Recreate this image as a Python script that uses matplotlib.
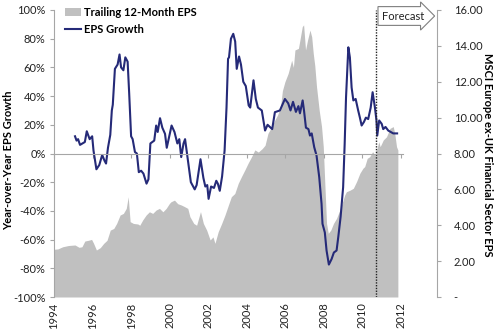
import numpy as np
import matplotlib
matplotlib.use("Agg")
from matplotlib import pyplot as plt
from matplotlib.patches import Patch
from matplotlib.lines import Line2D
from matplotlib.ticker import FuncFormatter, MultipleLocator

plt.rcParams['font.family'] = ['Lato', 'DejaVu Sans']

# year-over-year EPS growth (%), decimal years
growth_x = [1995.09, 1995.17, 1995.25, 1995.35, 1995.6, 1995.7, 1995.85, 1995.98,
            1996.05, 1996.2, 1996.35, 1996.5, 1996.62, 1996.7, 1996.8, 1996.92,
            1997.0, 1997.05, 1997.16, 1997.3, 1997.4, 1997.48, 1997.6, 1997.7,
            1997.82, 1997.9, 1998.0, 1998.08, 1998.2, 1998.3, 1998.4, 1998.52,
            1998.64, 1998.8, 1998.9, 1999.0, 1999.2, 1999.3, 1999.38, 1999.5,
            1999.62, 1999.76, 1999.85, 2000.1, 2000.25, 2000.4, 2000.5, 2000.6,
            2000.72, 2000.8, 2000.95, 2001.1, 2001.3, 2001.4, 2001.6, 2001.75,
            2001.85, 2001.95, 2002.02, 2002.15, 2002.3, 2002.42, 2002.5, 2002.6,
            2002.72, 2002.85, 2002.95, 2003.03, 2003.08, 2003.18, 2003.3, 2003.4,
            2003.48, 2003.6, 2003.7, 2003.82, 2003.95, 2004.1, 2004.18, 2004.35,
            2004.47, 2004.58, 2004.78, 2004.95, 2005.08, 2005.2, 2005.32, 2005.46,
            2005.72, 2005.98, 2006.15, 2006.27, 2006.4, 2006.55, 2006.68, 2006.76,
            2006.9, 2006.97, 2007.07, 2007.2, 2007.28, 2007.37, 2007.5, 2007.62,
            2007.76, 2007.88, 2007.93, 2008.05, 2008.14, 2008.26, 2008.4, 2008.52,
            2008.66, 2008.75, 2008.87, 2009.0, 2009.08, 2009.15, 2009.27, 2009.35,
            2009.44, 2009.53, 2009.65, 2009.78, 2009.87, 2009.96, 2010.08, 2010.18,
            2010.3, 2010.43, 2010.53, 2010.65, 2010.73, 2010.77, 2010.87, 2011.0,
            2011.08, 2011.2, 2011.34, 2011.6, 2011.8]
growth_y = [12, 9, 10, 6, 8, 15.5, 10, 12,
            2, -11, -8, -1, -5, -7, 4, 13,
            30, 34, 59, 62, 69, 60, 58, 67,
            64, 42, 12, 10, 1, 0, -13, -12,
            -14, -21, -18, 7, 9, 19.5, 15, 24.6,
            18, 13.7, 4, 19.5, 15, 7, 10, -2.5,
            7, 10, -5, -20, -25, -22, -4, -17,
            -23, -22, -31.6, -23, -24, -19, -21, -26,
            -16, 2, 32, 66, 67, 80, 83.4, 78,
            59, 67.6, 62, 50, 47, 33.5, 32, 51,
            38, 32, 30, 16, 20, 18.5, 17, 28.8,
            30, 38, 35, 30, 36, 29, 33, 28,
            37, 30, 18, 17, 12.5, 14, 4.4, -1.4,
            -16.5, -35, -49, -55, -67.6, -77.4, -73.6, -69,
            -67.6, -58, -44, -23.5, 6.7, 39, 74, 67,
            46, 37, 38, 30, 25, 19.5, 22, 25,
            24, 32, 42.7, 32, 23, 12.5, 23, 20.7,
            17, 18.5, 16, 14, 14]

# trailing 12-month EPS
eps_x = [1994.0, 1994.2, 1994.45, 1994.75, 1995.09, 1995.3, 1995.45, 1995.6,
         1995.78, 1995.95, 1996.05, 1996.2, 1996.4, 1996.58, 1996.75, 1996.92,
         1997.1, 1997.25, 1997.43, 1997.6, 1997.75, 1997.85, 1997.95, 1998.12,
         1998.35, 1998.45, 1998.6, 1998.78, 1998.95, 1999.12, 1999.3, 1999.47,
         1999.65, 1999.82, 1999.99, 2000.07, 2000.25, 2000.42, 2000.6, 2000.77,
         2000.94, 2001.05, 2001.25, 2001.4, 2001.6, 2001.75, 2001.92, 2002.1,
         2002.25, 2002.35, 2002.52, 2002.7, 2002.87, 2003.05, 2003.2, 2003.38,
         2003.56, 2003.73, 2003.9, 2004.07, 2004.25, 2004.42, 2004.6, 2004.8,
         2004.95, 2005.1, 2005.3, 2005.46, 2005.6, 2005.75, 2005.85, 2005.98,
         2006.15, 2006.33, 2006.42, 2006.5, 2006.68, 2006.76, 2006.88, 2006.95,
         2007.05, 2007.15, 2007.28, 2007.37, 2007.45, 2007.53, 2007.62, 2007.76,
         2007.88, 2007.97, 2008.05, 2008.14, 2008.23, 2008.36, 2008.5, 2008.66,
         2008.83, 2009.0, 2009.08, 2009.17, 2009.35, 2009.53, 2009.7, 2009.87,
         2010.03, 2010.12, 2010.25, 2010.38, 2010.53, 2010.65, 2010.74, 2010.85,
         2010.92, 2011.0, 2011.08, 2011.25, 2011.43, 2011.6, 2011.68, 2011.77,
         2011.84]
eps_y = [2.66, 2.68, 2.8, 2.87, 2.9, 2.77, 2.8, 3.12,
         3.16, 3.21, 3.0, 2.62, 2.75, 2.99, 3.16, 3.73,
         3.82, 4.1, 4.57, 4.66, 4.94, 5.59, 4.2, 4.1,
         4.07, 4.0, 4.29, 4.57, 4.75, 4.66, 4.85, 4.94,
         4.75, 4.94, 5.22, 5.31, 5.4, 5.2, 5.13, 5.04,
         4.94, 4.48, 4.1, 4.0, 4.76, 4.1, 3.73, 3.18,
         3.35, 2.99, 3.64, 4.1, 4.57, 5.13, 5.59, 5.77,
         6.34, 6.72, 7.08, 7.46, 7.82, 8.2, 8.08, 8.27,
         8.46, 9.12, 9.5, 9.87, 10.15, 10.6, 11.5, 12.0,
         12.47, 13.2, 12.8, 13.77, 13.86, 14.33, 15.07, 15.17,
         13.77, 14.3, 14.88, 14.5, 13.58, 12.9, 11.72, 10.4,
         9.5, 8.38, 6.34, 4.1, 3.55, 3.73, 4.1, 4.39,
         4.85, 5.4, 5.68, 5.87, 5.95, 6.06, 6.44, 6.9,
         7.18, 7.27, 7.73, 7.82, 8.1, 7.9, 8.19, 8.66,
         8.38, 8.56, 8.75, 8.93, 9.4, 9.5, 9.1, 8.38,
         8.19]

year_ticks = list(range(1994, 2013, 2))
forecast_start = 2010.73

gray = '#c0c0c0'
navy = '#252a78'
axis_gray = '#a6a6a6'
txt = '#222222'

fig = plt.figure(figsize=(4.95, 3.3), dpi=100)
ax = fig.add_axes([54/495, 33/330, 383/495, 287/330])
ax2 = ax.twinx()

# EPS area on the secondary axis, growth line on top
ax2.fill_between(eps_x, eps_y, 0, color=gray, lw=0)
ax.plot(growth_x, growth_y, color=navy, lw=1.5)
ax.set_zorder(ax2.get_zorder() + 1)
ax.patch.set_visible(False)

ax.set_xlim(1994, 2013.87)
ax.set_ylim(-100, 100)
ax2.set_ylim(0, 16)

ax.yaxis.set_major_locator(MultipleLocator(20))
ax.yaxis.set_major_formatter(FuncFormatter(lambda v, _: f'{v:.0f}%'))
ax2.yaxis.set_major_locator(MultipleLocator(2))
ax2.yaxis.set_major_formatter(FuncFormatter(lambda v, _: '-' if abs(v) < 1e-9 else f'{v:.2f}'))

ax.spines['top'].set_visible(False)
ax.spines['right'].set_visible(False)
for s in ('top', 'bottom', 'left'):
    ax2.spines[s].set_visible(False)
ax.spines['left'].set_color(axis_gray)
ax2.spines['right'].set_color(axis_gray)

ax.tick_params(axis='y', length=3, color=axis_gray, labelsize=8, pad=3, labelcolor=txt)
ax2.tick_params(axis='y', length=3, color=axis_gray, labelsize=8, pad=9, labelcolor=txt)

# category axis crosses at 0%, labels sit low
ax.spines['bottom'].set_position(('data', 0))
ax.spines['bottom'].set_color(axis_gray)
ax.spines['bottom'].set_bounds(1994, 2012.1)
ax.set_xticks(year_ticks)
ax.tick_params(axis='x', length=3, color=axis_gray, labelbottom=False)

lab = ax.secondary_xaxis('bottom')
lab.spines['bottom'].set_visible(False)
lab.set_xticks(year_ticks)
lab.set_xticklabels([str(y) for y in year_ticks], rotation=90)
lab.tick_params(axis='x', length=0, labelsize=8, pad=4, labelcolor=txt)

ax.axvline(forecast_start, color=txt, ls=(0, (1, 1)), lw=1)

fig.text(403/495, 1 - 16/330, 'Forecast', ha='center', va='center', fontsize=8,
         color=txt,
         bbox=dict(boxstyle='rarrow,pad=0.35', fc='white', ec='#7f7f7f', lw=0.8))

fig.text(9/495, 1 - 160/330, 'Year-over-Year EPS Growth', rotation=90,
         ha='center', va='center', fontsize=8, fontweight='bold')
fig.text(487/495, 1 - 155/330, 'MSCI Europe ex-UK Financial Sector EPS', rotation=270,
         ha='center', va='center', fontsize=8, fontweight='bold')

handles = [Patch(fc=gray, ec='none'), Line2D([], [], color=navy, lw=1.5)]
ax.legend(handles, ['Trailing 12-Month EPS', 'EPS Growth'], loc='upper left',
          bbox_to_anchor=(0.03, 1.01), frameon=False, borderpad=0, borderaxespad=0,
          handlelength=1.4, handletextpad=0.3, labelspacing=0.55,
          prop={'weight': 'bold', 'size': 8})

fig.savefig('out.png', dpi=100)
